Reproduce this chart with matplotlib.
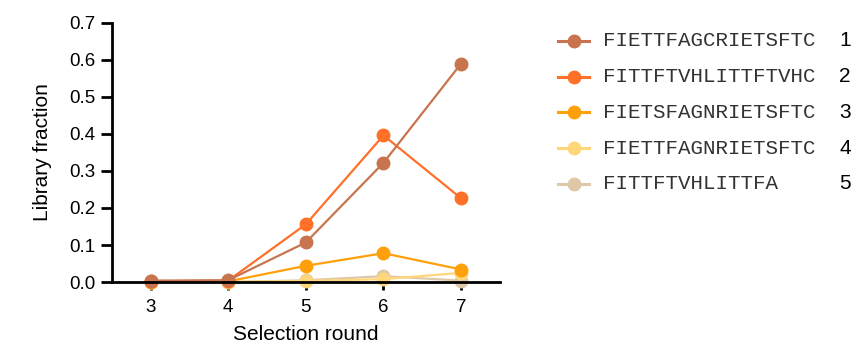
import matplotlib.pyplot as plt
from matplotlib.lines import Line2D

rounds = [3, 4, 5, 6, 7]
sequences = [
    "FIETTFAGCRIETSFTC",
    "FITTFTVHLITTFTVHC",
    "FIETSFAGNRIETSFTC",
    "FIETTFAGNRIETSFTC",
    "FITTFTVHLITTFA",
]
ranks = ["1", "2", "3", "4", "5"]
fractions = [
    [0.004, 0.005, 0.107, 0.322, 0.590],
    [0.002, 0.004, 0.156, 0.396, 0.226],
    [0.001, 0.002, 0.044, 0.078, 0.034],
    [0.000, 0.001, 0.003, 0.008, 0.025],
    [0.000, 0.000, 0.005, 0.016, 0.004],
]
colors = ["#c8744e", "#ff7028", "#ffa00a", "#ffd77a", "#dfc8a8"]

plt.rcParams['font.family'] = ['Liberation Sans', 'DejaVu Sans']

fig = plt.figure(figsize=(8.61, 3.5), dpi=100)
ax = fig.add_axes([0.1297, 0.194, 0.451, 0.741])

# draw the top-ranked sequence last so it sits on top
for vals, col in reversed(list(zip(fractions, colors))):
    ax.plot(rounds, vals, color=col, lw=1.6, marker='o', ms=9,
            clip_on=False)

ax.set_xlim(2.5, 7.5)
ax.set_ylim(0, 0.7)
ax.set_xticks(rounds)
ax.set_yticks([0, 0.1, 0.2, 0.3, 0.4, 0.5, 0.6, 0.7])
ax.set_yticklabels([f"{v:.1f}" for v in ax.get_yticks()])
for s in ['top', 'right']:
    ax.spines[s].set_visible(False)
for s in ['left', 'bottom']:
    ax.spines[s].set_linewidth(2)
ax.tick_params(axis='y', length=8, width=2, labelsize=13.5, pad=4)
ax.tick_params(axis='x', length=6, width=2, labelsize=13.5, pad=6)
ax.set_xlabel("Selection round", fontsize=15, labelpad=7)
ax.set_ylabel("Library fraction", fontsize=15, labelpad=12)

# legend with rank numbers in a column on the right
leg = fig.add_axes([0, 0, 1, 1], facecolor='none')
leg.set_xlim(0, 861)
leg.set_ylim(350, 0)
leg.axis('off')
row_y = [40.7, 76.5, 112.3, 148.0, 183.7]
for y, seq, rank, col in zip(row_y, sequences, ranks, colors):
    leg.add_line(Line2D([558, 589], [y, y], color=col, lw=2.2))
    leg.add_line(Line2D([573.5], [y], color=col, marker='o', ms=9))
    leg.text(603, y, seq, family=['Liberation Mono', 'DejaVu Sans Mono'],
             fontsize=15, color='#333333', va='center', ha='left')
    leg.text(839, y, rank, fontsize=15, va='center', ha='left')

fig.savefig("out.png", dpi=100)
